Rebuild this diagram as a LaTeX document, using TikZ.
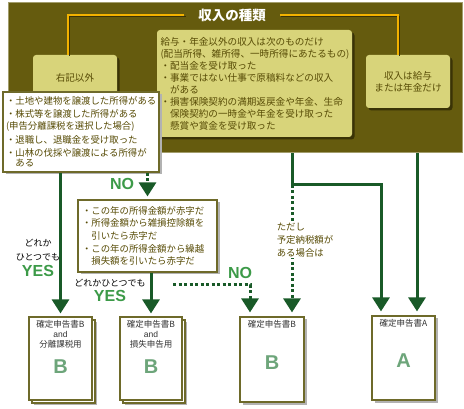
\documentclass[tikz,border=0pt]{standalone}
\usepackage{fontspec}
\setmainfont{Noto Sans CJK JP}
\newfontfamily\latinfont{Liberation Sans}
\usetikzlibrary{positioning, arrows.meta, shadows, calc}

\definecolor{olivebg}{HTML}{655B0E}
\definecolor{oliveedge}{HTML}{A29D6C}
\definecolor{yellowbox}{HTML}{D8D47A}
\definecolor{shadowdark}{HTML}{3A3306}
\definecolor{textolive}{HTML}{574B05}
\definecolor{boxedge}{HTML}{6E6A2A}
\definecolor{flowgreen}{HTML}{195A28}
\definecolor{yesgreen}{HTML}{3C9A48}
\definecolor{lettergreen}{HTML}{6DA57A}
\definecolor{titleorange}{HTML}{F2B200}

\begin{document}
\begin{tikzpicture}[x=1pt, y=-1pt,
    every node/.style={inner sep=0pt, font=\fontsize{9.6}{12}\selectfont},
    ybox/.style={fill=yellowbox, rounded corners=3pt, text=textolive,
      drop shadow={shadow xshift=2.5pt, shadow yshift=-2.5pt, fill=shadowdark, opacity=1}},
    wbox/.style={fill=white, draw=boxedge, line width=1.2pt, text=textolive, align=left,
      drop shadow={shadow xshift=2.5pt, shadow yshift=-2.5pt, fill=black!30, opacity=1}},
    docbox/.style={fill=white, draw=boxedge, line width=1.2pt,
      drop shadow={shadow xshift=2.5pt, shadow yshift=-2.5pt, fill=black!30, opacity=1}},
    stackdoc/.style={fill=white, draw=boxedge, line width=1.2pt,
      drop shadow={shadow xshift=5pt, shadow yshift=-5pt, fill=black!30, opacity=1},
      copy shadow={shadow xshift=3pt, shadow yshift=-3pt, draw=boxedge, fill=white, line width=1.2pt}},
    doctext/.style={align=center, text=black!80, font=\fontsize{8.5}{10}\selectfont},
    bigletter/.style={text=lettergreen, font=\latinfont\bfseries\fontsize{20}{20}\selectfont},
    yesno/.style={text=yesgreen, font=\latinfont\bfseries\fontsize{16}{16}\selectfont},
    flow/.style={draw=flowgreen, line width=3pt},
    dotflow/.style={flow, dash pattern=on 3pt off 2.5pt},
    titleline/.style={draw=titleorange, line width=1.5pt,
      preaction={draw=shadowdark, line width=1.5pt, transform canvas={xshift=1.5pt, yshift=-1.5pt}}},
    >={Triangle[width=17pt, length=14pt]}]
  \useasboundingbox (0,0) rectangle (464,409);

  % Kinds of income
  \node[fill=olivebg, draw=oliveedge, line width=1pt, minimum width=454, minimum height=150] (bigbox) at (235,78) {};
  \node[text=white, font=\bfseries\fontsize{13.5}{14}\selectfont] (title) at (232,15) {収入の種類};
  \node[ybox, minimum width=84, minimum height=46] (other) at (75,78) {右記以外};
  \node[ybox, minimum width=195, minimum height=107, align=left, text width=188pt, inner sep=3.5pt] (misc) at (254.5,83.5)
    {給与・年金以外の収入は次のものだけ\\
     (配当所得、雑所得、一時所得にあたるもの)\\
     ・配当金を受け取った\\
     ・事業ではない仕事で原稿料などの収入\\
     　がある\\
     ・損害保険契約の満期返戻金や年金、生命\\
     　保険契約の一時金や年金を受け取った\\
     　懸賞や賞金を受け取った};
  \node[ybox, minimum width=84, minimum height=53, align=center] (pay) at (408,81.5) {収入は給与\\または年金だけ};
  \draw[titleline] ([xshift=-14pt]title.west) -| ([xshift=-7pt]other.north);
  \draw[titleline] ([xshift=14pt]title.east) -| ([xshift=-10pt]pay.north);

  % Questions
  \node[wbox, minimum width=156, minimum height=80, text width=150pt, inner sep=3pt,
    font=\fontsize{9.4}{12}\selectfont] (wbox1) at (81,132)
    {・土地や建物を譲渡した所得がある\\[1.5pt]
     ・株式等を譲渡した所得がある\\
     (申告分離課税を選択した場合)\\[1.5pt]
     ・退職し、退職金を受け取った\\[1.5pt]
     ・山林の伐採や譲渡による所得が\\[-2pt]
     　ある};
  \node[wbox, minimum width=139, minimum height=72, text width=131pt, inner sep=4pt,
    font=\fontsize{9.4}{12.7}\selectfont] (wbox2) at (147.5,236)
    {・この年の所得金額が赤字だ\\
     ・所得金額から雑損控除額を\\
     　引いたら赤字だ\\
     ・この年の所得金額から繰越\\
     　損失額を引いたら赤字だ};

  % Return forms
  \node[stackdoc, minimum width=63, minimum height=83] (d1) at (60.5,358.5) {};
  \node[stackdoc, minimum width=62, minimum height=83] (d2) at (151,358.5) {};
  \node[docbox, minimum width=64, minimum height=85] (d3) at (272,359.5) {};
  \node[docbox, minimum width=63, minimum height=84] (d4) at (403.5,358) {};
  \node[doctext, below=4pt of d1.north] {確定申告書B\\{\latinfont and}\\分離課税用};
  \node[doctext, below=4pt of d2.north] {確定申告書B\\{\latinfont and}\\損失申告用};
  \node[doctext, below=4pt of d3.north] {確定申告書B};
  \node[doctext, below=4pt of d4.north] {確定申告書A};
  \node[bigletter] at ($(d1.center)+(0,8)$) {B};
  \node[bigletter] at ($(d2.center)+(0,8)$) {B};
  \node[bigletter] at ($(d3.center)+(0,3)$) {B};
  \node[bigletter] at ($(d4.center)+(0,3)$) {A};

  % Connectors
  \coordinate (nostart) at (173,285);
  \coordinate (split) at (292,185);
  \coordinate (d3l) at ([xshift=-22pt]d3.north);
  \coordinate (d3r) at ([xshift=20pt]d3.north);
  \coordinate (d4l) at ([xshift=-22.5pt]d4.north);
  \coordinate (d4r) at ([xshift=13.5pt]d4.north);
  \draw[flow, ->, shorten >=3pt] (d1.north |- wbox1.south) -- (d1.north);
  \draw[dotflow, ->, shorten >=3pt] (wbox2.north |- wbox1.south) -- (wbox2.north);
  \draw[flow, ->, shorten >=3pt] (d2.north |- wbox2.south) -- (d2.north);
  \draw[dotflow, ->, shorten >=4pt] (nostart) -| (d3l);
  \draw[flow, ->, shorten >=4pt] (split |- bigbox.south) -- (split) -| (d4l);
  \draw[dotflow, ->, shorten >=4pt] (split) -- (d3r);
  \draw[flow, ->, shorten >=4pt] (d4r |- bigbox.south) -- (d4r);

  % Labels
  \node[yesno] (no1) at (122,184) {NO};
  \node[yesno] (no2) at (240,273) {NO};
  \node[align=center, font=\fontsize{9}{14}\selectfont] (anyleft) at (38,250) {どれか\\ひとつでも};
  \node[yesno, below=4pt of anyleft] (yesleft) {YES};
  \node[font=\fontsize{9}{12}\selectfont] (anymid) at (110,283) {どれかひとつでも};
  \node[yesno, below=3pt of anymid] (yesmid) {YES};
  \node[fill=white, align=left, text=textolive, inner sep=1pt, font=\fontsize{9.4}{13}\selectfont]
    (advance) at (305,240) {ただし\\予定納税額が\\ある場合は};
\end{tikzpicture}
\end{document}
